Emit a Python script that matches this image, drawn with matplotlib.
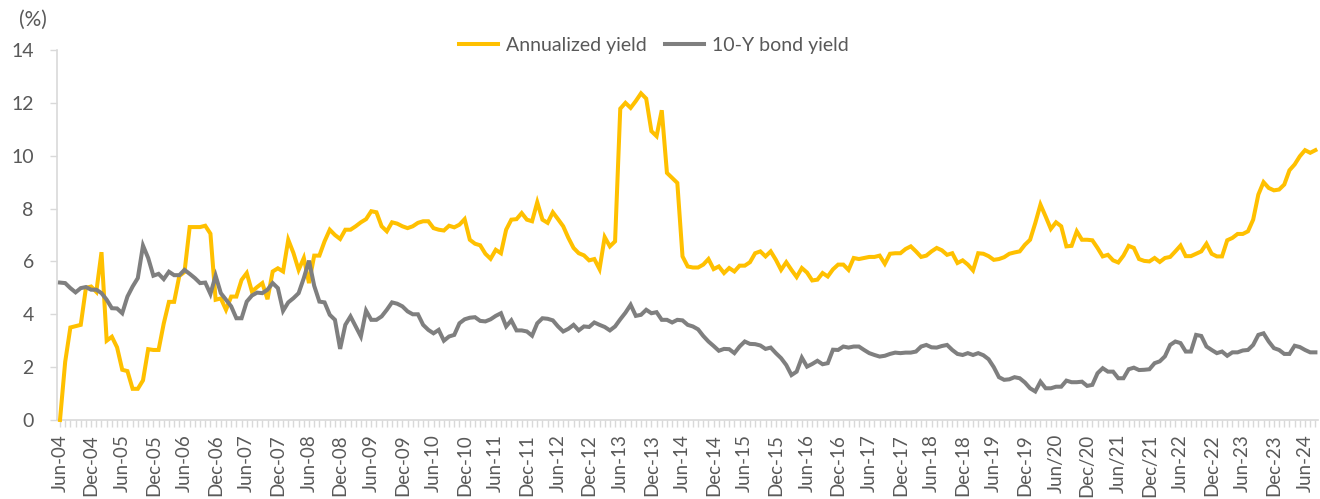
import matplotlib
matplotlib.use("Agg")
import matplotlib.pyplot as plt
from matplotlib.ticker import MultipleLocator
import numpy as np
import pandas as pd

# Monthly observations, Jun-2004 .. Aug-2024
months = pd.date_range("2004-06-01", "2024-08-01", freq="MS")

annualized_yield = [
    0.00, 2.20, 3.50, 3.55, 3.60, 5.00, 5.05, 4.85, 6.35, 3.00,
    3.15, 2.75, 1.90, 1.85, 1.18, 1.18, 1.50, 2.68, 2.65, 2.65,
    3.65, 4.47, 4.47, 5.45, 5.60, 7.30, 7.30, 7.30, 7.35, 7.05,
    4.55, 4.60, 4.17, 4.67, 4.67, 5.30, 5.56, 4.86, 5.03, 5.18,
    4.57, 5.62, 5.74, 5.62, 6.82, 6.32, 5.68, 6.13, 5.18, 6.22,
    6.22, 6.76, 7.20, 7.00, 6.85, 7.20, 7.20, 7.33, 7.48, 7.60,
    7.90, 7.86, 7.33, 7.14, 7.48, 7.43, 7.33, 7.26, 7.33, 7.46,
    7.52, 7.52, 7.26, 7.20, 7.17, 7.35, 7.29, 7.39, 7.60, 6.82,
    6.67, 6.61, 6.29, 6.10, 6.44, 6.31, 7.20, 7.58, 7.60, 7.83,
    7.58, 7.52, 8.24, 7.58, 7.46, 7.86, 7.60, 7.33, 6.89, 6.51,
    6.31, 6.23, 6.04, 6.09, 5.71, 6.92, 6.57, 6.76, 11.78, 12.00,
    11.81, 12.07, 12.36, 12.16, 10.93, 10.74, 11.72, 9.35, 9.16, 8.97,
    6.19, 5.81, 5.77, 5.77, 5.88, 6.09, 5.71, 5.81, 5.56, 5.75,
    5.62, 5.84, 5.84, 5.97, 6.31, 6.38, 6.19, 6.38, 6.06, 5.68,
    5.97, 5.68, 5.41, 5.75, 5.58, 5.28, 5.31, 5.56, 5.43, 5.70,
    5.88, 5.88, 5.68, 6.13, 6.09, 6.13, 6.17, 6.17, 6.22, 5.91,
    6.29, 6.31, 6.31, 6.47, 6.57, 6.38, 6.17, 6.22, 6.38, 6.51,
    6.42, 6.25, 6.31, 5.94, 6.04, 5.88, 5.66, 6.31, 6.29, 6.20,
    6.06, 6.09, 6.16, 6.29, 6.34, 6.38, 6.63, 6.82, 7.45, 8.15,
    7.70, 7.23, 7.48, 7.33, 6.57, 6.59, 7.14, 6.82, 6.82, 6.80,
    6.51, 6.19, 6.25, 6.04, 5.96, 6.22, 6.59, 6.51, 6.09, 6.02,
    6.00, 6.13, 5.98, 6.13, 6.17, 6.38, 6.60, 6.20, 6.20, 6.29,
    6.38, 6.67, 6.29, 6.19, 6.19, 6.80, 6.89, 7.04, 7.04, 7.14,
    7.58, 8.53, 9.00, 8.78, 8.69, 8.72, 8.91, 9.45, 9.67, 9.98,
    10.21, 10.11, 10.21,
]

bond_yield_10y = [
    5.20, 5.18, 4.99, 4.83, 4.99, 5.03, 4.93, 4.93, 4.80, 4.55,
    4.23, 4.22, 4.04, 4.67, 5.05, 5.37, 6.60, 6.13, 5.46, 5.53,
    5.33, 5.61, 5.48, 5.48, 5.68, 5.53, 5.37, 5.18, 5.20, 4.77,
    5.46, 4.80, 4.55, 4.30, 3.85, 3.85, 4.48, 4.71, 4.82, 4.80,
    4.93, 5.18, 4.99, 4.13, 4.45, 4.61, 4.80, 5.37, 6.03, 5.08,
    4.48, 4.45, 3.98, 3.79, 2.69, 3.60, 3.92, 3.54, 3.16, 4.14,
    3.79, 3.79, 3.92, 4.17, 4.45, 4.40, 4.30, 4.11, 4.00, 4.00,
    3.60, 3.41, 3.28, 3.41, 3.00, 3.16, 3.22, 3.66, 3.81, 3.87,
    3.89, 3.75, 3.73, 3.81, 3.94, 4.04, 3.54, 3.77, 3.39, 3.39,
    3.35, 3.19, 3.66, 3.85, 3.83, 3.77, 3.54, 3.35, 3.45, 3.60,
    3.39, 3.54, 3.52, 3.69, 3.60, 3.52, 3.39, 3.54, 3.81, 4.06,
    4.36, 3.94, 3.98, 4.17, 4.04, 4.08, 3.79, 3.79, 3.69, 3.79,
    3.77, 3.60, 3.54, 3.43, 3.18, 2.97, 2.80, 2.62, 2.69, 2.68,
    2.53, 2.78, 2.97, 2.88, 2.87, 2.82, 2.69, 2.74, 2.53, 2.34,
    2.08, 1.70, 1.83, 2.36, 2.02, 2.12, 2.24, 2.11, 2.15, 2.66,
    2.65, 2.78, 2.74, 2.78, 2.78, 2.65, 2.53, 2.46, 2.40, 2.43,
    2.50, 2.55, 2.53, 2.55, 2.55, 2.59, 2.78, 2.84, 2.75, 2.74,
    2.80, 2.84, 2.65, 2.50, 2.46, 2.53, 2.46, 2.53, 2.45, 2.30,
    2.00, 1.62, 1.52, 1.54, 1.62, 1.58, 1.42, 1.20, 1.08, 1.45,
    1.20, 1.20, 1.26, 1.26, 1.49, 1.43, 1.43, 1.45, 1.29, 1.33,
    1.77, 1.96, 1.83, 1.83, 1.58, 1.58, 1.92, 1.98, 1.89, 1.90,
    1.92, 2.15, 2.22, 2.41, 2.84, 2.97, 2.91, 2.59, 2.59, 3.22,
    3.18, 2.78, 2.65, 2.53, 2.59, 2.43, 2.56, 2.56, 2.63, 2.65,
    2.84, 3.22, 3.28, 2.97, 2.72, 2.65, 2.50, 2.50, 2.81, 2.76,
    2.65, 2.56, 2.56,
]

tick_labels = [
    "Jun-04", "Dec-04", "Jun-05", "Dec-05", "Jun-06", "Dec-06", "Jun-07", "Dec-07",
    "Jun-08", "Dec-08", "Jun-09", "Dec-09", "Jun-10", "Dec-10", "Jun-11", "Dec-11",
    "Jun-12", "Dec-12", "Jun-13", "Dec-13", "Jun-14", "Dec-14", "Jun-15", "Dec-15",
    "Jun-16", "Dec-16", "Jun-17", "Dec-17", "Jun-18", "Dec-18", "Jun-19", "Dec-19",
    "Jun/20", "Dec/20", "Jun/21", "Dec/21", "Jun-22", "Dec-22", "Jun-23", "Dec-23",
    "Jun-24",
]

series_names = ["Annualized yield", "10-Y bond yield"]
colors = ["#FFC000", "#7F7F7F"]

plt.rcParams["font.family"] = ["Lato", "DejaVu Sans"]
TXT = "#595959"
AX = "#D9D9D9"

W, H = 1320, 499
fig = plt.figure(figsize=(W / 100, H / 100), dpi=100)
left, right = 57.4, 1318.0
top, bottom = 50.0, 420.0
ax = fig.add_axes([left / W, 1 - bottom / H, (right - left) / W, (bottom - top) / H])

x = np.arange(len(months))
ax.plot(x, annualized_yield, color=colors[0], lw=2.9, label=series_names[0],
        solid_joinstyle="miter", clip_on=False, zorder=3)
ax.plot(x, bond_yield_10y, color=colors[1], lw=2.9, label=series_names[1],
        solid_joinstyle="miter", clip_on=False, zorder=3)

ax.set_xlim(-0.5, len(months) - 0.5)
ax.set_ylim(0, 14)
ax.yaxis.set_major_locator(MultipleLocator(2))

ax.set_xticks(np.arange(0, len(months), 6))
ax.set_xticklabels(tick_labels, rotation=90, va="top", ha="center")
ax.set_xticks(np.arange(0, len(months)), minor=True)

for s in ["top", "right"]:
    ax.spines[s].set_visible(False)
for s in ["left", "bottom"]:
    ax.spines[s].set_color(AX)
    ax.spines[s].set_linewidth(1.2)

ax.tick_params(axis="x", which="both", direction="out", length=5, width=1.0,
               color=AX, labelsize=13.5, labelcolor=TXT, pad=5)
ax.tick_params(axis="y", which="major", direction="out", length=5, width=1.0,
               color=AX, labelsize=14, labelcolor=TXT, pad=12)

fig.text(19 / W, 1 - 20 / H, "(%)", fontsize=15, color=TXT, ha="left", va="center")

fig.legend(loc="center", bbox_to_anchor=(654 / W, 1 - 45 / H), ncol=2, frameon=False,
           fontsize=14, labelcolor=TXT, handlelength=2.0, handletextpad=0.45,
           columnspacing=0.9)

fig.savefig("out.png", dpi=100)
